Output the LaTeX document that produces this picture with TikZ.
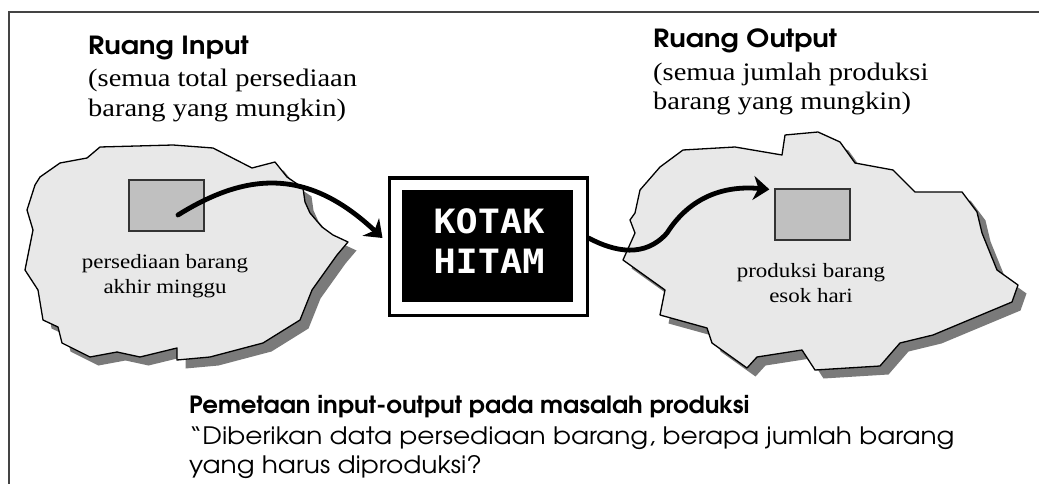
\documentclass[tikz,border=0pt]{standalone}
\usepackage{fontspec}
\usetikzlibrary{arrows.meta}
\setmainfont{Liberation Serif}[FakeStretch=1.13]
\newfontfamily\gothicbot{TeX Gyre Adventor}[FakeStretch=1.03]
\newfontfamily\gothicwide{TeX Gyre Adventor}[FakeStretch=1.1]
\newfontfamily\monofam{DejaVu Sans Mono}[FakeStretch=1.1]
\definecolor{blobgray}{HTML}{E8E8E8}
\definecolor{shadowgray}{HTML}{7A7A7A}
\definecolor{boxgray}{HTML}{C0C0C0}
\definecolor{framegray}{HTML}{444444}
\tikzset{
  blob/.style={fill=blobgray, draw=black, line width=1.3pt, line join=round},
  shadowfill/.style={fill=shadowgray},
  itembox/.style={draw=black!80, fill=boxgray, line width=1.2pt},
  bigarrow/.style={line width=4.8pt, line cap=round, -{Stealth[length=16pt,width=24pt,inset=5pt]}},
  serifhead/.style={font=\fontsize{25.2}{30}\selectfont, inner sep=0pt, anchor=base west},
  gothhead/.style={font=\gothicwide\bfseries\fontsize{25}{30}\selectfont, inner sep=0pt, anchor=base west},
  capbold/.style={font=\gothicbot\bfseries\fontsize{23.7}{30}\selectfont, inner sep=0pt, anchor=base west},
  gothtext/.style={font=\gothicwide\fontsize{24}{30}\selectfont, inner sep=0pt, anchor=base west},
  bloblabel/.style={font=\fontsize{20.3}{25}\selectfont, inner sep=0pt, anchor=base},
  monotext/.style={font=\monofam\bfseries\fontsize{33.5}{40}\selectfont, text=white, inner sep=0pt, anchor=base},
}
\begin{document}
\begin{tikzpicture}[x=1pt,y=-1pt]
\path[use as bounding box] (0,0) rectangle (1039,484);
% frame
\draw[framegray, line width=2pt] (9,484) -- (9,12) -- (1039,12);

% left blob
\def\leftblob{(100,147) -- (173,145) -- (213,148) -- (252,168) -- (275,162) -- (287,177) -- (303,188) -- (305,202) -- (310,213) -- (322,227) -- (333,235) -- (348,242) -- (337,255) -- (312,290) -- (300,320) -- (263,343) -- (210,357) -- (177,360) -- (177,348) -- (140,357) -- (117,352) -- (90,357) -- (62,343) -- (58,327) -- (43,320) -- (38,290) -- (25,270) -- (33,230) -- (27,210) -- (35,185) -- (40,177) -- (60,163) -- (87,158) -- cycle}
\fill[shadowfill, shift={(8.5pt,-8.5pt)}] \leftblob;
\draw[blob] \leftblob;

% right blob
\def\rightblob{(683,150) -- (735,147) -- (782,155) -- (785,135) -- (818,132) -- (840,142) -- (855,163) -- (893,170) -- (915,192) -- (962,192) -- (977,212) -- (982,233) -- (997,270) -- (1018,285) -- (1012,302) -- (933,335) -- (900,343) -- (880,366) -- (815,370) -- (802,350) -- (757,357) -- (747,368) -- (712,343) -- (707,328) -- (660,315) -- (665,290) -- (623,260) -- (635,233) -- (630,220) -- (635,213) -- (640,190) -- (660,167) -- cycle}
\fill[shadowfill, shift={(8.5pt,-8.5pt)}] \rightblob;
\draw[blob] \rightblob;

% inner boxes
\node[itembox, minimum width=75pt, minimum height=51pt, inner sep=0pt] (inRect) at (166.5,205.5) {};
\node[itembox, minimum width=75pt, minimum height=51pt, inner sep=0pt] (outRect) at (812.5,214.5) {};

% black box
\node[draw=black, line width=3pt, fill=white, minimum width=198pt, minimum height=137pt, inner sep=0pt] (box) at (488,246.5) {};
\node[fill=black, minimum width=171pt, minimum height=112pt, inner sep=0pt] (boxIn) at (487.5,246) {};
\node[monotext] (kotak) at (489,233) {KOTAK};
\node[monotext] (hitam) at (489,273) {HITAM};

% headings
\node[gothhead] (inT) at (88,55) {Ruang Input};
\node[serifhead] (inL1) at (88,87) {(semua total persediaan};
\node[serifhead] (inL2) at (88,117) {barang yang mungkin)};
\node[gothhead] (outT) at (653,48) {Ruang Output};
\node[serifhead] (outL1) at (653,81) {(semua jumlah produksi};
\node[serifhead] (outL2) at (653,110) {barang yang mungkin)};

% blob labels
\node[bloblabel] (inLab1) at (165,268) {persediaan barang};
\node[bloblabel] (inLab2) at (165,293) {akhir minggu};
\node[bloblabel] (outLab1) at (811,277) {produksi barang};
\node[bloblabel] (outLab2) at (811,302) {esok hari};

% arrows
\coordinate (inDot) at (178,215);
\draw[bigarrow] (inDot) .. controls (250,170) and (310,170) .. ([xshift=-5pt,yshift=8.5pt]box.west);
\draw[bigarrow] ([yshift=8.5pt]box.east) .. controls (615,252) and (645,258) .. (667,233) .. controls (688,200) and (720,185) .. ([xshift=-5pt,yshift=-1pt]outRect.north west);

% bottom text
\node[capbold] (capT) at (189,413) {Pemetaan input-output pada masalah produksi};
\node[gothtext] (capL1) at (189,444) {“Diberikan data persediaan barang, berapa jumlah barang};
\node[gothtext] (capL2) at (189,473) {yang harus diproduksi?};
\end{tikzpicture}
\end{document}
